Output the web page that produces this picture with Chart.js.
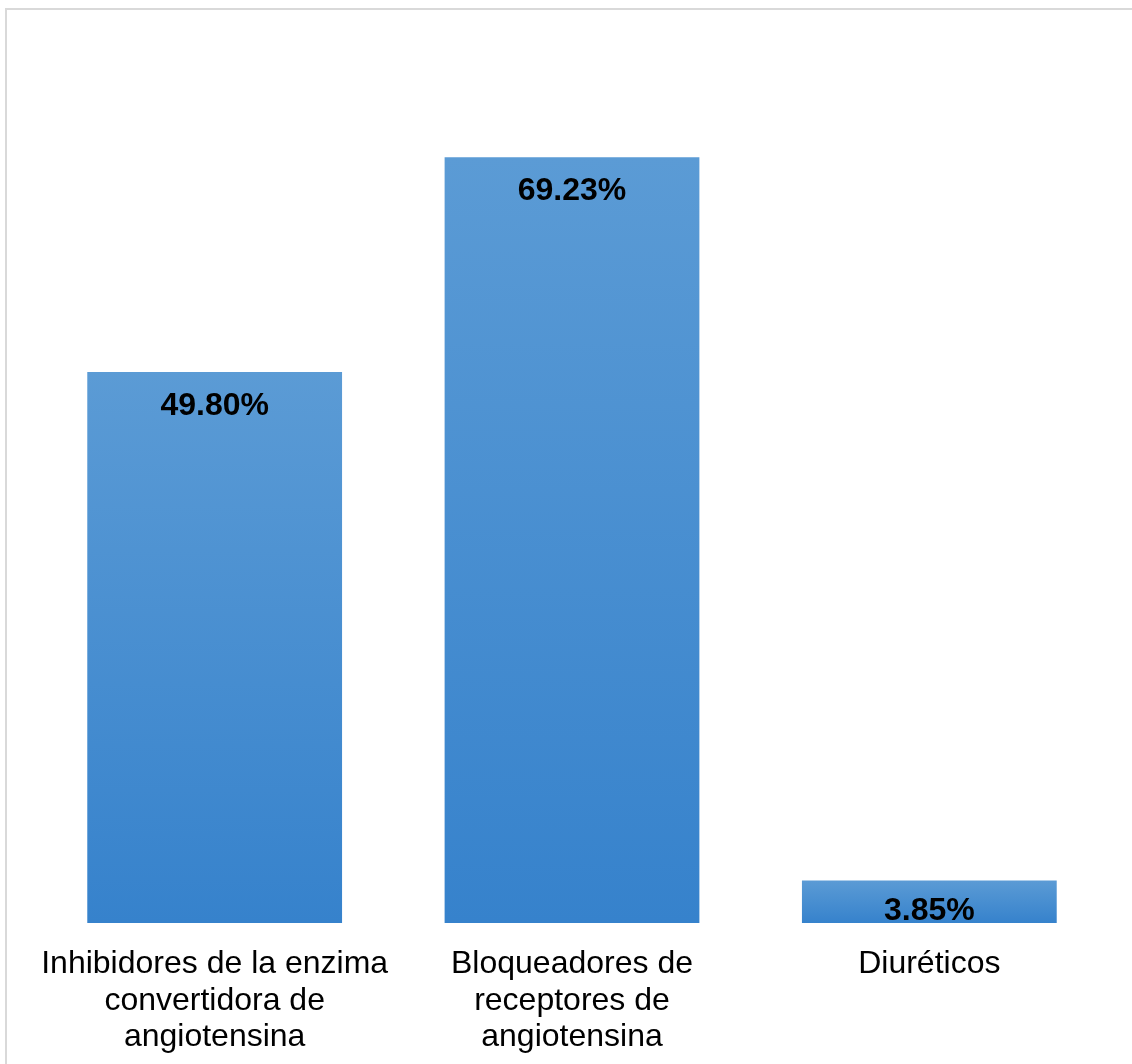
<!DOCTYPE html>
<html>
<head>
<meta charset="utf-8">
<script src="https://cdn.jsdelivr.net/npm/chart.js@4.4.1/dist/chart.umd.min.js"></script>
<style>
  html, body { margin: 0; padding: 0; background: #fff; overflow: hidden; }
  #frame {
    position: absolute; left: 5px; top: 8px; width: 1200px; height: 1200px;
    border-top: 2px solid #d9d9d9; border-left: 2px solid #d9d9d9;
  }
  #wrap { position: absolute; left: 0; top: 0; width: 1132px; height: 1064px; }
</style>
</head>
<body>
<div id="frame"></div>
<div id="wrap"><canvas id="chart" width="1132" height="1064"></canvas></div>
<script>
// ── DATA ───────────────────────────────────────────────────────────────
const categories = [
  ['Inhibidores de la enzima', 'convertidora de', 'angiotensina'],
  ['Bloqueadores de', 'receptores de', 'angiotensina'],
  ['Diuréticos']
];
const percentValues = [49.80, 69.23, 3.85];
const percentLabels = ['49.80%', '69.23%', '3.85%'];

const FONT = "'Liberation Sans', Arial, sans-serif";

// gradient per bar, top lighter, bottom darker
function barGradient(ctx) {
  const chart = ctx.chart;
  const y = chart.scales && chart.scales.y;
  if (!chart.chartArea || !y || ctx.dataIndex === undefined) return '#4a90d2';
  const top = y.getPixelForValue(ctx.raw);
  const bottom = y.getPixelForValue(0);
  const g = chart.ctx.createLinearGradient(0, top, 0, bottom);
  g.addColorStop(0, '#5b9bd5');
  g.addColorStop(1, '#3682cc');
  return g;
}

// value labels inside top of bars
const valueLabels = {
  id: 'valueLabels',
  afterDatasetsDraw(chart) {
    const ctx = chart.ctx;
    const meta = chart.getDatasetMeta(0);
    ctx.save();
    ctx.font = 'bold 32px ' + FONT;
    ctx.fillStyle = '#000';
    ctx.textAlign = 'center';
    ctx.textBaseline = 'alphabetic';
    meta.data.forEach((bar, i) => {
      const yPos = Math.min(bar.y + 43, bar.base - 3);
      ctx.fillText(percentLabels[i], bar.x, yPos);
    });
    ctx.restore();
  }
};

new Chart(document.getElementById('chart'), {
  type: 'bar',
  data: {
    labels: categories,
    datasets: [{
      data: percentValues,
      backgroundColor: barGradient,
      borderWidth: 0,
      categoryPercentage: 1,
      barPercentage: 0.713
    }]
  },
  options: {
    responsive: false,
    animation: false,
    layout: { padding: { left: 36, right: 24, top: 38, bottom: 0 } },
    plugins: { legend: { display: false }, tooltip: { enabled: false } },
    scales: {
      y: { display: false, min: 0, max: 80 },
      x: {
        grid: { display: false },
        border: { display: false },
        ticks: {
          color: '#000',
          padding: 15,
          maxRotation: 0,
          autoSkip: false,
          font: { family: FONT, size: 32, lineHeight: 1.14 }
        },
        afterFit: (scale) => { scale.height = 141; }
      }
    }
  },
  plugins: [valueLabels]
});
</script>
</body>
</html>
